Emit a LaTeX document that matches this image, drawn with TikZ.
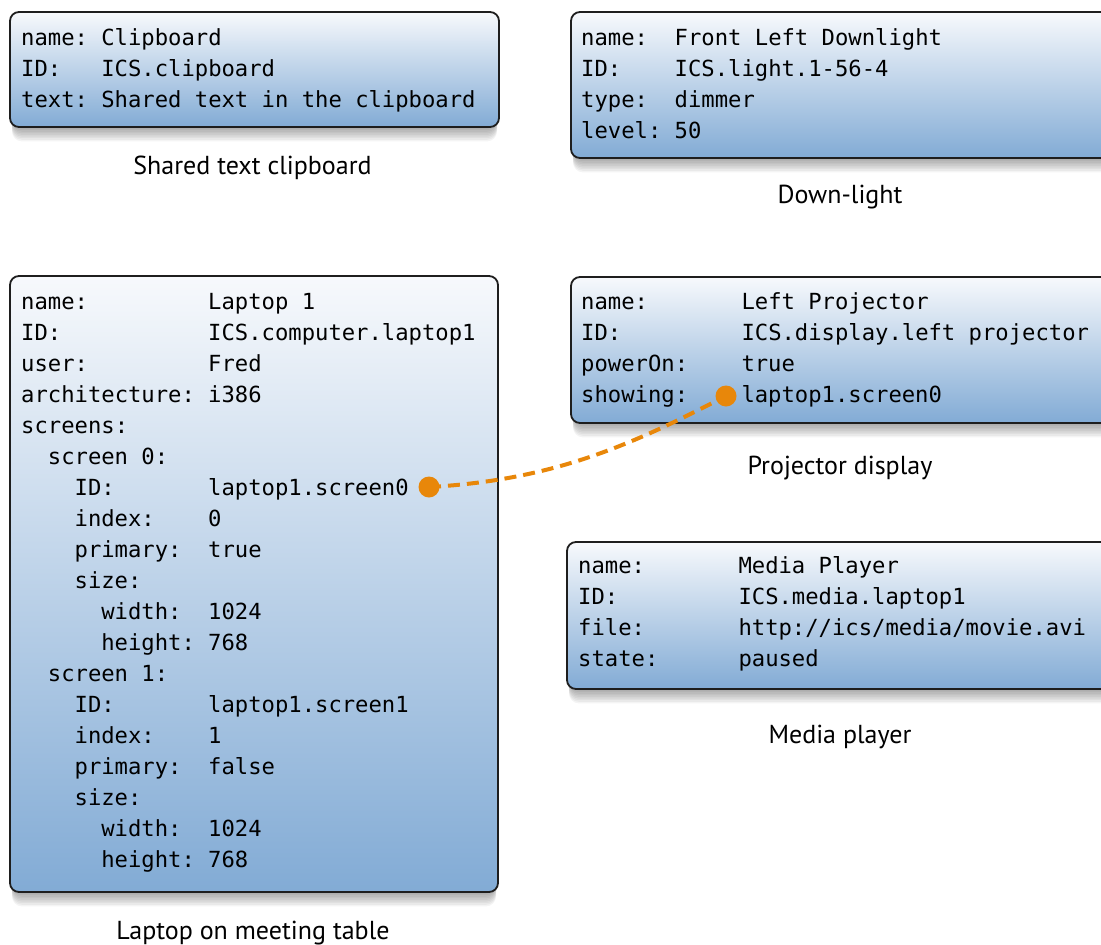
\documentclass[tikz,border=0pt]{standalone}
\usepackage{fontspec}
\setmainfont{PT Sans}
\newfontfamily\mono{DejaVu Sans Mono}
\definecolor{boxtop}{HTML}{F7F9FC}
\definecolor{boxbot}{HTML}{82ABD5}
\definecolor{boxline}{HTML}{1E1E1E}
\definecolor{linkcol}{HTML}{E8870A}
\newlength\cw
\setlength\cw{13.36pt}
\newcommand\kv[3]{\makebox[#1\cw][l]{#2}#3}
\newcommand\ind[1]{\hspace*{#1\cw}}
\newcommand\infobox[4]{%
  \foreach \i in {1,...,9}{\fill[black,opacity=0.045,rounded corners=10pt] (#1+2,#2+8) rectangle (#3-2,#4+1.6*\i);}
  \shade[top color=boxtop,bottom color=boxbot,rounded corners=9pt] (#1,#2) rectangle (#3,#4);
  \draw[boxline,line width=1.8pt,rounded corners=9pt] (#1,#2) rectangle (#3,#4);
}
\tikzset{
  txt/.style={anchor=north west,inner sep=0pt,align=left,font=\fontsize{22.2}{31}\selectfont\mono},
  captext/.style={anchor=base,inner sep=0pt,font=\fontsize{26}{30}\selectfont},
  dot/.style={circle,fill=linkcol,minimum size=21pt,inner sep=0pt},
  linkline/.style={draw=linkcol,line width=4pt,dash pattern=on 12pt off 7pt}
}
\begin{document}
\begin{tikzpicture}[x=1pt,y=-1pt]
\useasboundingbox (0,0) rectangle (1101,945);
\clip (0,0) rectangle (1101,945);

% boxes
\infobox{10}{12}{499}{127}
\infobox{571}{12}{1125}{158}
\infobox{10}{276}{498}{892}
\infobox{571}{277}{1125}{423}
\infobox{567}{542}{1125}{689}

% clipboard
\node[txt] (clipT) at (21,45-21.7) {\strut\kv6{name:}{Clipboard}\\\kv6{ID:}{ICS.clipboard}\\\kv6{text:}{Shared text in the clipboard}};
\node[captext] (clipC) at (252.5,174) {Shared text clipboard};

% downlight
\node[txt] (lightT) at (581,45-21.7) {\strut\kv7{name:}{Front Left Downlight}\\\kv7{ID:}{ICS.light.1-56-4}\\\kv7{type:}{dimmer}\\\kv7{level:}{50}};
\node[captext] (lightC) at (840,203) {Down-light};

% laptop
\node[txt] (lapT) at (21,309-21.7) {\strut\kv{14}{name:}{Laptop 1}\\
\kv{14}{ID:}{ICS.computer.laptop1}\\
\kv{14}{user:}{Fred}\\
\kv{14}{architecture:}{i386}\\
screens:\\
\ind{2}screen 0:\\
\ind{4}\kv{10}{ID:}{laptop1.screen0}\\
\ind{4}\kv{10}{index:}{0}\\
\ind{4}\kv{10}{primary:}{true}\\
\ind{4}size:\\
\ind{6}\kv{8}{width:}{1024}\\
\ind{6}\kv{8}{height:}{768}\\
\ind{2}screen 1:\\
\ind{4}\kv{10}{ID:}{laptop1.screen1}\\
\ind{4}\kv{10}{index:}{1}\\
\ind{4}\kv{10}{primary:}{false}\\
\ind{4}size:\\
\ind{6}\kv{8}{width:}{1024}\\
\ind{6}\kv{8}{height:}{768}};
\node[captext] (lapC) at (253,939) {Laptop on meeting table};

% projector
\node[txt] (projT) at (581,309-21.7) {\strut\kv{12}{name:}{Left Projector}\\\kv{12}{ID:}{ICS.display.left projector}\\\kv{12}{powerOn:}{true}\\\kv{12}{showing:}{laptop1.screen0}};
\node[captext] (projC) at (840,474) {Projector display};

% media
\node[txt] (mediaT) at (578,573-21.7) {\strut\kv{12}{name:}{Media Player}\\\kv{12}{ID:}{ICS.media.laptop1}\\\kv{12}{file:}{http://ics/media/movie.avi}\\\kv{12}{state:}{paused}};
\node[captext] (mediaC) at (840,743) {Media player};

% link
\coordinate (pA) at (429,487);
\coordinate (pB) at (726,396);
\draw[linkline] (pA) .. controls (560,480) and (640,440) .. (pB);
\node[dot] (dotA) at (pA) {};
\node[dot] (dotB) at (pB) {};
\end{tikzpicture}
\end{document}
